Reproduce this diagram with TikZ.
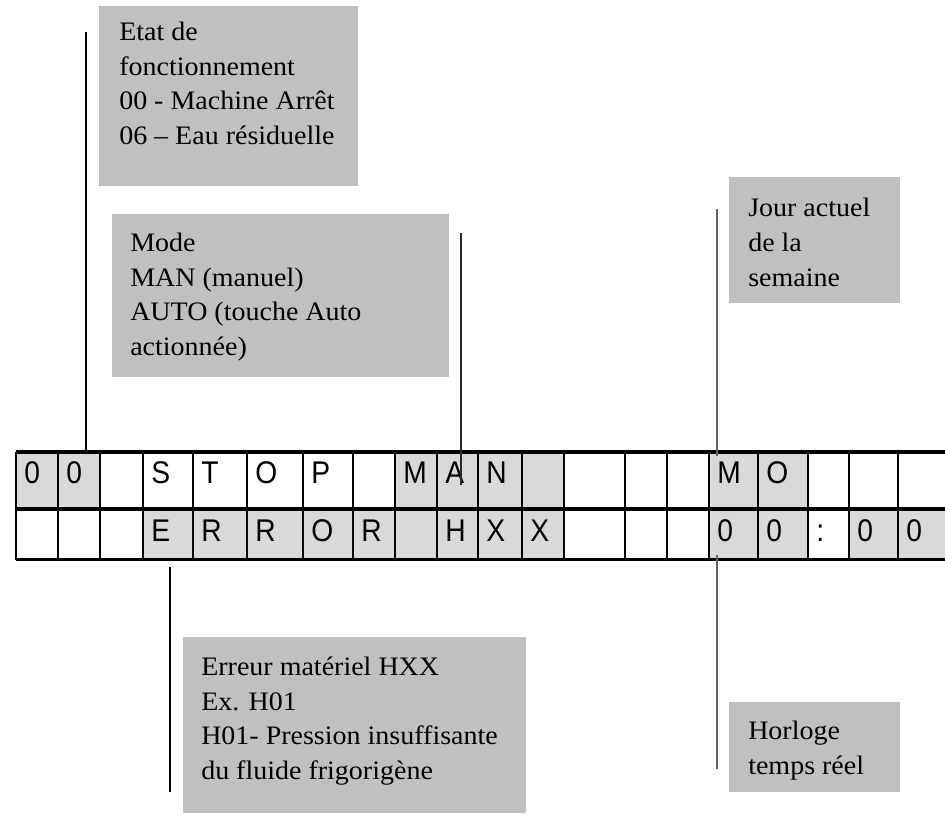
\documentclass[tikz,border=0pt]{standalone}
\usepackage{fontspec}
\setmainfont[FakeStretch=1.05]{Liberation Serif}
\newfontfamily\lcdfont[FakeStretch=0.9]{Liberation Sans}
\definecolor{boxgray}{RGB}{192,192,192}
\definecolor{cellgray}{RGB}{217,217,217}
\definecolor{leaddark}{RGB}{40,40,40}
\definecolor{leadgray}{RGB}{100,100,100}
\begin{document}
\begin{tikzpicture}[x=0.75pt,y=-0.75pt,
  infobox/.style={fill=boxgray, draw=none, anchor=north west, inner sep=0pt},
  boxtext/.style={anchor=base west, inner sep=0pt, align=left,
    font=\fontsize{20}{25.9}\selectfont},
  lcdcell/.style={draw=none, anchor=north west, inner sep=0pt},
  lcdchar/.style={anchor=base west, inner sep=0pt,
    font=\lcdfont\fontsize{23.5}{23.5}\selectfont},
  hline/.style={draw=black, line width=2.3pt},
  vline/.style={draw=black, line width=1.8pt},
  leaderA/.style={draw=black, line width=1.1pt},
  leaderB/.style={draw=leaddark, line width=1.2pt},
  leaderC/.style={draw=leadgray, line width=1.5pt}]
\clip (0,0) rectangle (945,818);
\fill[white] (0,0) rectangle (945,818);

% information boxes (text nodes anchored at the baseline of their last line)
\node[infobox, minimum width=194.25pt, minimum height=135pt] (etat) at (99,6) {};
\node[boxtext] (etatT) at (119,144.5) {Etat de\\fonctionnement\\00 - Machine Arrêt\\06 – Eau résiduelle};

\node[infobox, minimum width=252.75pt, minimum height=122.25pt] (mode) at (112,214) {};
\node[boxtext] (modeT) at (130,355.5) {Mode\\MAN (manuel)\\AUTO (touche Auto\\actionnée)};

\node[infobox, minimum width=128.25pt, minimum height=94.5pt] (jour) at (729,177) {};
\node[boxtext] (jourT) at (748,286) {Jour actuel\\de la\\semaine};

\node[infobox, minimum width=257.25pt, minimum height=132pt] (err) at (183,637) {};
\node[boxtext] (errT) at (201,779.5) {Erreur matériel HXX\\Ex. H01\\H01- Pression insuffisante\\du fluide frigorigène};

\node[infobox, minimum width=128.25pt, minimum height=67.5pt] (horl) at (729,702) {};
\node[boxtext] (horlT) at (748,774.5) {Horloge\\temps réel};

% display cells
\foreach \i/\xa/\xb/\ta/\fa/\tb/\fb in {
  0/16/58/0/cellgray/{}/white,
  1/58/100/0/cellgray/{}/white,
  2/100/143/{}/white/{}/white,
  3/143/193/S/white/E/cellgray,
  4/193/247/T/white/R/cellgray,
  5/247/303/O/white/R/cellgray,
  6/303/353/P/white/O/cellgray,
  7/353/395/{}/white/R/cellgray,
  8/395/437/M/cellgray/{}/cellgray,
  9/437/478/A/cellgray/H/cellgray,
  10/478/522/N/cellgray/X/cellgray,
  11/522/564/{}/cellgray/X/cellgray,
  12/564/625/{}/white/{}/white,
  13/625/667/{}/white/{}/white,
  14/667/709/{}/white/{}/white,
  15/709/758/M/cellgray/0/cellgray,
  16/758/808/O/cellgray/0/cellgray,
  17/808/849/{}/white/:/white,
  18/849/898/{}/white/0/cellgray,
  19/898/960/{}/white/0/cellgray}{
  \pgfmathsetmacro{\w}{(\xb-\xa)*0.75}
  \node[lcdcell, fill=\fa, minimum width=\w pt, minimum height=42.75pt] (t\i) at (\xa,452) {};
  \node[lcdcell, fill=\fb, minimum width=\w pt, minimum height=37.5pt] (b\i) at (\xa,509) {};
  \node[lcdchar] (tc\i) at (\xa+8,483) {\ta};
  \node[lcdchar] (bc\i) at (\xa+8,541) {\tb};
}
% grid lines
\foreach \i in {0,...,19}{
  \draw[vline] (t\i.north west) -- (b\i.south west);
}
\draw[hline] (t0.north west) -- (t19.north east);
\draw[hline] (b0.north west) -- (b19.north east);
\draw[hline] (b0.south west) -- (b19.south east);

% leader lines
\coordinate (l1a) at (86,32);
\coordinate (l1b) at (86,452);
\draw[leaderA] (l1a) -- (l1b);
\coordinate (l2a) at (461,233);
\coordinate (l2b) at (461,485);
\draw[leaderB] (l2a) -- (l2b);
\coordinate (l3a) at (717,209);
\coordinate (l3b) at (717,456);
\draw[leaderC] (l3a) -- (l3b);
\coordinate (l4a) at (717,555);
\coordinate (l4b) at (717,769);
\draw[leaderC] (l4a) -- (l4b);
\coordinate (l5a) at (170,567);
\coordinate (l5b) at (170,792);
\draw[leaderA] (l5a) -- (l5b);
\end{tikzpicture}
\end{document}
